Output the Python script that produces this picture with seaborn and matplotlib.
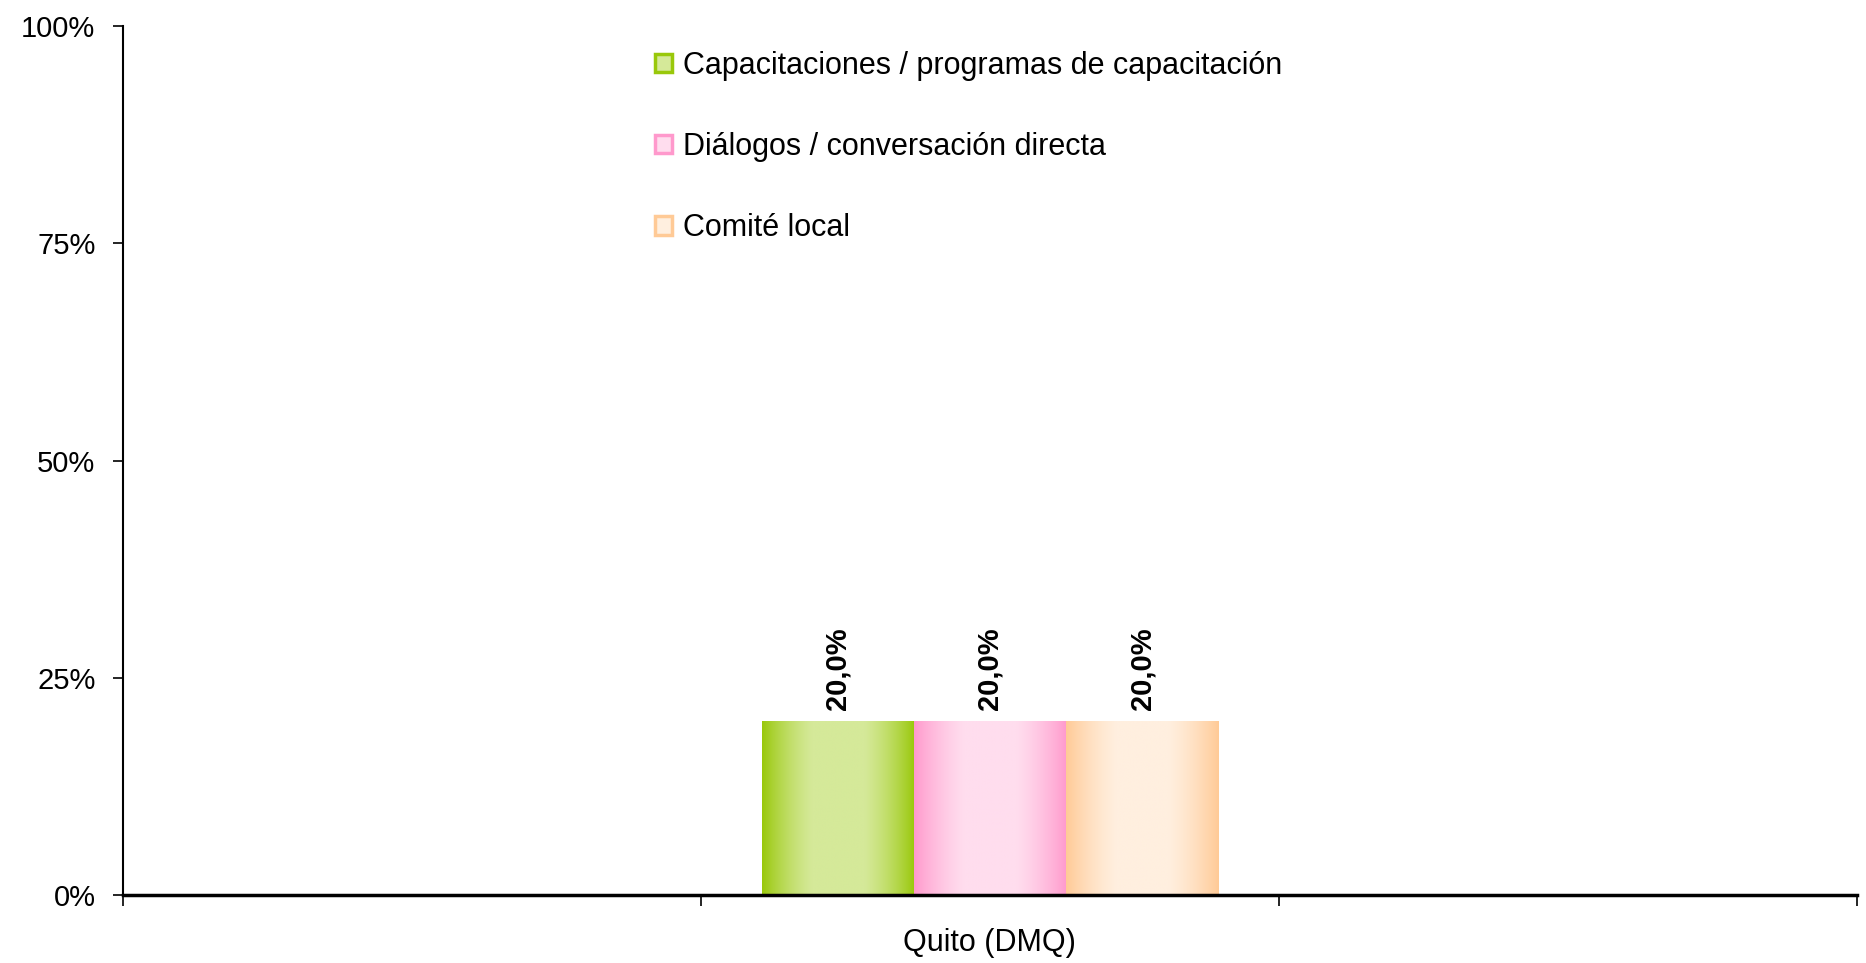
import pandas as pd
import matplotlib.pyplot as plt
import numpy as np
import seaborn as sns
from matplotlib.patches import Patch
from matplotlib.colors import to_rgb

sns.set_style('white')
plt.rcParams['font.family'] = ['Liberation Sans', 'DejaVu Sans']
plt.rcParams['text.color'] = 'black'
plt.rcParams['xtick.color'] = 'black'
plt.rcParams['ytick.color'] = 'black'

# datos
categorias = ['Quito (DMQ)']
series = ['Capacitaciones / programas de capacitación',
          'Diálogos / conversación directa',
          'Comité local']
valores = [20.0, 20.0, 20.0]
etiquetas = ['20,0%', '20,0%', '20,0%']
y_ticks = [0, 25, 50, 75, 100]

# colores: borde oscuro y centro claro (degradado tipo Excel)
color_borde = ['#99C80A', '#FF99CC', '#FFCA96']
color_centro = ['#D5E999', '#FFDDEE', '#FFEFDF']

df = pd.DataFrame({'region': categorias * len(series),
                   'tipo': series,
                   'valor': valores})

fig = plt.figure(figsize=(18.66, 9.63), dpi=100)
ax = fig.add_axes([0.066, 0.0706, 0.929, 0.9024])

sns.barplot(data=df, x='region', y='valor', hue='tipo', hue_order=series,
            palette=color_borde, width=0.79, dodge=True, saturation=1,
            legend=False, ax=ax)

# degradado horizontal en cada barra
perfil_x = np.linspace(0, 1, 200)
peso = np.clip(np.sin(np.pi * perfil_x) ** 0.9 * 1.15, 0, 1)
for i, cont in enumerate(ax.containers):
    c0 = np.array(to_rgb(color_borde[i]))
    c1 = np.array(to_rgb(color_centro[i]))
    img = (c0[None, :] * (1 - peso[:, None]) + c1[None, :] * peso[:, None])[None, :, :]
    for p in cont.patches:
        x0, w, h = p.get_x(), p.get_width(), p.get_height()
        im = ax.imshow(img, extent=[x0, x0 + w, 0, h], aspect='auto',
                       zorder=p.get_zorder() + 0.1, interpolation='bilinear')
        im.set_clip_path(p)
    ax.bar_label(cont, labels=[etiquetas[i]], rotation=90, fontweight='bold',
                 fontsize=21, padding=8)

ax.set_xlim(-1.5, 1.5)
ax.set_ylim(0, 100)
ax.set_yticks(y_ticks)
ax.set_yticklabels([f'{v}%' for v in y_ticks], fontsize=21)
ax.set_xticks([-1.5, -0.5, 0.5, 1.5])
ax.set_xticklabels([''] * 4)
ax.set_xticks([0], minor=True)
ax.set_xticklabels(categorias, minor=True, fontsize=22)
ax.tick_params(axis='x', which='major', direction='out', length=8, width=1.2,
               bottom=True)
ax.tick_params(axis='x', which='minor', length=0, pad=24, bottom=True)
ax.tick_params(axis='y', direction='out', length=7, width=1.2, pad=13, left=True)
ax.set_xlabel('')
ax.set_ylabel('')

sns.despine(ax=ax)
ax.spines['left'].set_linewidth(1.5)
ax.spines['left'].set_color('black')
ax.spines['bottom'].set_linewidth(2.5)
ax.spines['bottom'].set_color('black')
ax.spines['bottom'].set_zorder(5)

handles = [Patch(facecolor=color_centro[i], edgecolor=color_borde[i], linewidth=2.5)
           for i in range(len(series))]
fig.legend(handles, series, loc='upper left', bbox_to_anchor=(0.3365, 0.976),
           frameon=False, fontsize=22, labelspacing=1.68, handlelength=0.55,
           handleheight=0.55, handletextpad=0.35)

plt.savefig('out.png', dpi=100)
